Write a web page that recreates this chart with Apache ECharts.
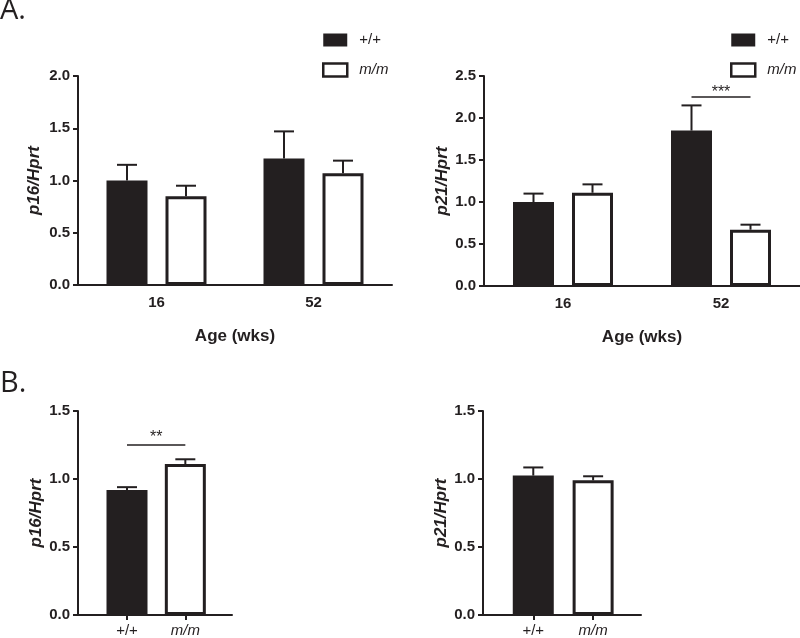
<!DOCTYPE html>
<html>
<head>
<meta charset="utf-8">
<script src="https://cdn.jsdelivr.net/npm/echarts@6/dist/echarts.min.js"></script>
<style>html,body{margin:0;padding:0;background:#fff;}#c{width:800px;height:638px;}</style>
</head>
<body>
<div id="c"></div>
<script>
// ---------- data ----------
const ages = ['16', '52'];
const genotypes = ['+/+', 'm/m'];
// Panel A, p16/Hprt
const p16WT = [1.00, 1.21];
const p16WTsem = [0.15, 0.26];
const p16MM = [0.85, 1.07];
const p16MMsem = [0.10, 0.12];
// Panel A, p21/Hprt
const p21WT = [1.00, 1.85];
const p21WTsem = [0.10, 0.30];
const p21MM = [1.11, 0.67];
const p21MMsem = [0.10, 0.06];
// Panel B (by genotype)
const bP16 = [0.92, 1.11];
const bP16sem = [0.02, 0.035];
const bP21 = [1.025, 0.99];
const bP21sem = [0.06, 0.03];
// significance: [fromIndex, toIndex, y]
const sigA2 = [1, 1, 2.25];
const sigA2Label = '***';
const sigB1 = [0, 1, 1.25];
const sigB1Label = '**';
// axis ticks
const yTicksA1 = [0, 2.0, 0.5];
const yTicksA2 = [0, 2.5, 0.5];
const yTicksB = [0, 1.5, 0.5];

// ---------- style ----------
const INK = '#231f20';
const FONT = '"Liberation Sans", Arial, sans-serif';
const BAR_W = 41, BAR_GAP = 18, CAP_W = 20;
const OFF = (BAR_W + BAR_GAP) / 2;
const blackStyle = { color: INK, borderColor: INK, borderWidth: 0 };
const whiteStyle = { color: '#ffffff', borderColor: INK, borderWidth: 3 };

function yAxis(gridIndex, ticks, name, gap) {
  return {
    type: 'value', gridIndex, min: ticks[0], max: ticks[1], interval: ticks[2],
    name, nameLocation: 'middle', nameGap: gap, nameRotate: 90,
    nameTextStyle: { fontFamily: FONT, fontWeight: 'bold', fontStyle: 'italic', fontSize: 17, color: INK },
    axisLine: { show: true, onZero: false, lineStyle: { color: INK, width: 2 } },
    axisTick: { show: true, length: 5, lineStyle: { color: INK, width: 2 } },
    axisLabel: { fontFamily: FONT, fontWeight: 'bold', fontSize: 15, color: INK, margin: 8,
      formatter: v => v.toFixed(1) },
    splitLine: { show: false }
  };
}
function xAxisCat(gridIndex) {
  return {
    type: 'category', gridIndex, data: ages,
    name: 'Age (wks)', nameLocation: 'middle', nameGap: 43,
    nameTextStyle: { fontFamily: FONT, fontWeight: 'bold', fontSize: 17, color: INK },
    axisLine: { onZero: false, lineStyle: { color: INK, width: 2 } },
    axisTick: { alignWithLabel: true, length: 5, lineStyle: { color: INK, width: 2 } },
    axisLabel: { fontFamily: FONT, fontWeight: 'bold', fontSize: 15, color: INK, margin: 10 }
  };
}
function xAxisB(gridIndex) {
  return {
    type: 'value', gridIndex, min: -0.84, max: 1.8,
    axisLine: { show: true, onZero: false, lineStyle: { color: INK, width: 2 } },
    axisTick: { show: true, length: 5, customValues: [0, 1], lineStyle: { color: INK, width: 2 } },
    axisLabel: { customValues: [0, 1], margin: 8, fontFamily: FONT, fontSize: 15, color: INK,
      formatter: v => { const s = genotypes[Math.round(v)]; return s === 'm/m' ? '{i|' + s + '}' : s; },
      rich: { i: { fontStyle: 'italic', fontFamily: FONT, fontSize: 15, color: INK } } },
    splitLine: { show: false }
  };
}
function errSeries(xi, means, sems, offset) {
  return {
    type: 'custom', xAxisIndex: xi, yAxisIndex: xi, z: 5, silent: true,
    encode: { x: 0, y: [1, 2] },
    data: means.map((m, i) => [i, m, m + sems[i]]),
    renderItem: (params, api) => {
      const b = api.coord([api.value(0), api.value(1)]);
      const t = api.coord([api.value(0), api.value(2)]);
      const x = b[0] + offset;
      return { type: 'group', children: [
        { type: 'line', shape: { x1: x, y1: b[1], x2: x, y2: t[1] }, style: { stroke: INK, lineWidth: 2 } },
        { type: 'line', shape: { x1: x - CAP_W / 2, y1: t[1], x2: x + CAP_W / 2, y2: t[1] }, style: { stroke: INK, lineWidth: 2 } }
      ] };
    }
  };
}
function sigSeries(xi, sig, label, dFrom, dTo, textGap) {
  return {
    type: 'custom', xAxisIndex: xi, yAxisIndex: xi, z: 6, silent: true,
    encode: { x: [0, 1], y: 2 },
    data: [sig],
    renderItem: (params, api) => {
      const a = api.coord([api.value(0), api.value(2)]);
      const b = api.coord([api.value(1), api.value(2)]);
      const x1 = a[0] + dFrom, x2 = b[0] + dTo, y = a[1];
      return { type: 'group', children: [
        { type: 'line', shape: { x1, y1: y, x2, y2: y }, style: { stroke: INK, lineWidth: 1.5 } },
        { type: 'text', x: (x1 + x2) / 2, y: y - textGap,
          style: { text: label, align: 'center', verticalAlign: 'middle', fontSize: 16, fontFamily: FONT, fill: INK } }
      ] };
    }
  };
}
function legend(left) {
  return {
    orient: 'vertical', left, top: 32, padding: 0, itemGap: 14,
    itemWidth: 24, itemHeight: 13, icon: 'rect',
    data: [
      { name: '+/+', itemStyle: { color: INK, borderWidth: 0 } },
      { name: 'm/m', itemStyle: { color: '#fff', borderColor: INK, borderWidth: 2.5 } }
    ],
    formatter: n => n === 'm/m' ? '{i|m/m}' : n,
    textStyle: { fontFamily: FONT, fontSize: 15, color: INK, lineHeight: 16, padding: [0, 0, 0, 7],
      rich: { i: { fontStyle: 'italic', fontFamily: FONT, fontSize: 15, color: INK, lineHeight: 16 } } }
  };
}
function barA(xi, name, vals, style) {
  return { type: 'bar', name, xAxisIndex: xi, yAxisIndex: xi, data: vals, barWidth: BAR_W,
    barGap: (BAR_GAP / BAR_W * 100) + '%', itemStyle: style, silent: true };
}
function barB(xi, vals) {
  return { type: 'bar', xAxisIndex: xi, yAxisIndex: xi, barWidth: BAR_W, silent: true,
    data: vals.map((v, i) => ({ value: [i, v], itemStyle: i === 0 ? blackStyle : whiteStyle })) };
}

const option = {
  animation: false,
  backgroundColor: '#fff',
  title: [
    { text: 'A.', left: 0, top: -4, padding: 0, textStyle: { fontFamily: '"Open Sans", sans-serif', fontWeight: 'normal', fontSize: 29, color: INK } },
    { text: 'B.', left: 0, top: 369, padding: 0, textStyle: { fontFamily: '"Open Sans", sans-serif', fontWeight: 'normal', fontSize: 29, color: INK } }
  ],
  legend: [legend(322), legend(730)],
  grid: [
    { left: 78, top: 76, width: 314, height: 209 },
    { left: 484, top: 76, width: 316, height: 210 },
    { left: 78, top: 411, width: 154, height: 205 },
    { left: 483, top: 411, width: 158, height: 205 }
  ],
  xAxis: [xAxisCat(0), xAxisCat(1), xAxisB(2), xAxisB(3)],
  yAxis: [
    yAxis(0, yTicksA1, 'p16/Hprt', 35),
    yAxis(1, yTicksA2, 'p21/Hprt', 33),
    yAxis(2, yTicksB, 'p16/Hprt', 27),
    yAxis(3, yTicksB, 'p21/Hprt', 32)
  ],
  series: [
    barA(0, '+/+', p16WT, blackStyle),
    barA(0, 'm/m', p16MM, whiteStyle),
    barA(1, '+/+', p21WT, blackStyle),
    barA(1, 'm/m', p21MM, whiteStyle),
    barB(2, bP16),
    barB(3, bP21),
    errSeries(0, p16WT, p16WTsem, -OFF),
    errSeries(0, p16MM, p16MMsem, OFF),
    errSeries(1, p21WT, p21WTsem, -OFF),
    errSeries(1, p21MM, p21MMsem, OFF),
    errSeries(2, bP16, bP16sem, 0),
    errSeries(3, bP21, bP21sem, 0),
    sigSeries(1, sigA2, sigA2Label, -OFF, OFF, 4),
    sigSeries(2, sigB1, sigB1Label, 0, 0, 7)
  ]
};
const chart = echarts.init(document.getElementById('c'), null, { renderer: 'canvas' });
chart.setOption(option);
</script>
</body>
</html>
